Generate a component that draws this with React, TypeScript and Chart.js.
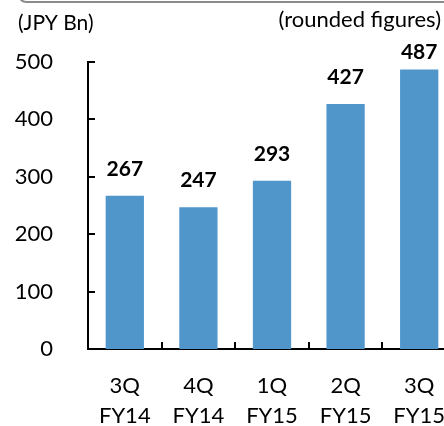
import React, { useEffect, useRef } from "react";
import { Chart, registerables } from "chart.js";

Chart.register(...registerables);

const categories: string[][] = [["3Q", "FY14"], ["4Q", "FY14"], ["1Q", "FY15"], ["2Q", "FY15"], ["3Q", "FY15"]];
const values: number[] = [267, 247, 293, 427, 487];
const yTicks: number[] = [0, 100, 200, 300, 400, 500];
const unitLabel = "(JPY Bn)";
const noteLabel = "(rounded figures)";

const FONT = "Lato, 'Open Sans', sans-serif";
const BAR = "#5096CB";

export default function App() {
  const ref = useRef<HTMLCanvasElement | null>(null);
  useEffect(() => {
    if (!ref.current) return;
    const decor = {
      id: "decor",
      afterDraw(chart: any) {
        const ctx = chart.ctx;
        const xs = chart.scales.x;
        const ys = chart.scales.y;
        const area = chart.chartArea;
        ctx.save();
        // top frame
        ctx.strokeStyle = "#8a8a8a";
        ctx.lineWidth = 2;
        ctx.beginPath();
        ctx.moveTo(20, -4);
        ctx.quadraticCurveTo(20, 2, 27, 2);
        ctx.lineTo(470, 2);
        ctx.stroke();
        // titles
        ctx.fillStyle = "#000";
        ctx.textBaseline = "middle";
        ctx.textAlign = "left";
        ctx.font = `21px ${FONT}`;
        ctx.fillText(unitLabel, 18, 23);
        ctx.textAlign = "right";
        ctx.font = `22px ${FONT}`;
        ctx.fillText(noteLabel, 441, 20);
        // ticks
        ctx.strokeStyle = "#000";
        ctx.lineWidth = 2;
        ctx.beginPath();
        yTicks.forEach((v) => {
          const y = Math.round(ys.getPixelForValue(v));
          ctx.moveTo(area.left, y);
          ctx.lineTo(area.left + 7, y);
        });
        for (let i = 1; i <= categories.length; i++) {
          const x = Math.round((xs.getPixelForValue(i - 1) + xs.getPixelForValue(i)) / 2);
          const xx = i === categories.length ? area.right : x;
          ctx.moveTo(xx, area.bottom);
          ctx.lineTo(xx, area.bottom - 7);
        }
        ctx.stroke();
        // value labels
        const meta = chart.getDatasetMeta(0);
        ctx.font = `bold 21px ${FONT}`;
        ctx.textAlign = "center";
        ctx.textBaseline = "middle";
        meta.data.forEach((bar: any, i: number) => {
          const y = Math.max(bar.y - 27, 52);
          ctx.fillText(String(values[i]), bar.x, y);
        });
        ctx.restore();
      },
    };
    const chart = new Chart(ref.current, {
      type: "bar",
      data: {
        labels: categories,
        datasets: [{ data: values, backgroundColor: BAR, borderWidth: 0, barPercentage: 0.52, categoryPercentage: 1 }],
      },
      options: {
        responsive: false,
        animation: false,
        layout: { padding: { top: 62, right: 14, left: 0, bottom: 0 } },
        plugins: { legend: { display: false }, tooltip: { enabled: false } },
        scales: {
          x: {
            grid: { display: false, drawTicks: false },
            border: { display: true, color: "#000", width: 2 },
            ticks: { color: "#000", font: { family: FONT, size: 22, lineHeight: 1.36 }, padding: 22, maxRotation: 0 },
            afterFit: (s: any) => { s.height = 77; },
          },
          y: {
            min: 0,
            max: 500,
            afterBuildTicks: (s: any) => { s.ticks = yTicks.map((v) => ({ value: v })); },
            grid: { display: false, drawTicks: false },
            border: { display: true, color: "#000", width: 2 },
            ticks: { color: "#000", font: { family: FONT, size: 22 }, padding: 35 },
            afterFit: (s: any) => { s.width = 88; },
          },
        },
      },
      plugins: [decor],
    });
    return () => chart.destroy();
  }, []);
  return (
    <div style={{ position: "fixed", left: 0, top: 0, width: 444, height: 426, overflow: "hidden", background: "#fff" }}>
      <canvas ref={ref} width={470} height={426} style={{ display: "block", width: 470, height: 426 }} />
    </div>
  );
}
